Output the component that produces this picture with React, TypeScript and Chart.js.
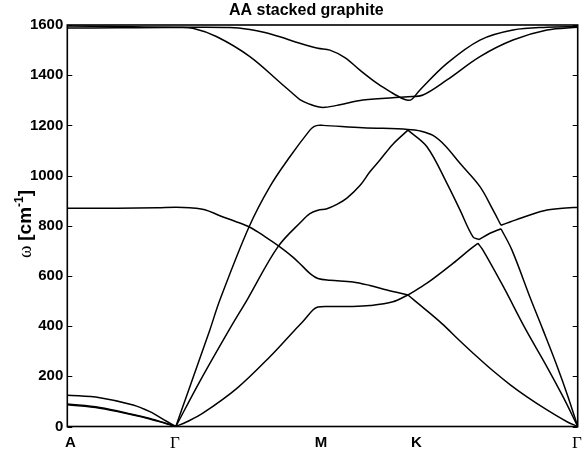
import React, { useEffect, useRef } from 'react';
import { Chart, registerables } from 'chart.js';

Chart.register(...registerables);

// ---------- text ----------
const TITLE = 'AA stacked graphite';
const Y_TITLE_SYMBOL = 'ω';
const Y_TITLE_TEXT = '[cm';
const Y_TITLE_SUP = '-1';
const Y_TITLE_END = ']';

// ---------- axes ----------
const K_MAX = 5.102;
const K_TICK_POS = [0.03, 1.075, 2.535, 3.49, 5.095];
const K_TICK_LABELS = ['A', 'Γ', 'M', 'K', 'Γ'];
const Y_MIN = 0;
const Y_MAX = 1600;
const Y_STEP = 200;

// ---------- bands: [k, omega (cm^-1)] ----------
// A - Γ acoustic
const AC1_AG = [[0, 125], [0.325, 115], [0.658, 86], [0.825, 59], [0.992, 21], [1.085, 0]];
const AC2_AG = [[0, 87], [0.325, 73], [0.658, 46], [0.825, 30], [0.992, 11], [1.085, 0]];
const AC3_AG = [[0, 90], [0.325, 76], [0.658, 48], [0.825, 32], [0.992, 12], [1.085, 0]];

// ZO-like branch A -> Γ -> M -> K
const ZO_AK = [
  [0, 870], [0.5, 870], [0.9, 872], [1.085, 874], [1.225, 872], [1.375, 864], [1.525, 840],
  [1.675, 818], [1.825, 794], [1.975, 757], [2.125, 716], [2.255, 675], [2.355, 637],
  [2.425, 610], [2.505, 590], [2.625, 583], [2.855, 576], [3.025, 562], [3.195, 544], [3.405, 524],
];
// ZA branch Γ -> M -> K
const ZA_GK = [
  [1.085, 0], [1.195, 19], [1.355, 53], [1.695, 152], [2.025, 278], [2.275, 385], [2.355, 418],
  [2.455, 464], [2.505, 476], [2.625, 478], [2.825, 478], [3.025, 482], [3.255, 497], [3.405, 524],
];
// LA branch Γ -> M -> K -> avoided crossing
const LA_GK = [
  [1.085, 0], [1.195, 125], [1.425, 385], [1.525, 504], [1.815, 794], [2.025, 956],
  [2.225, 1075], [2.425, 1181], [2.465, 1195], [2.505, 1200], [2.555, 1200], [2.955, 1191],
  [3.405, 1184], [3.525, 1178], [3.655, 1160], [3.775, 1120], [3.925, 1049], [4.125, 956],
  [4.255, 863], [4.335, 802],
];
const LA_END = [[4.335, 802], [4.425, 815], [4.595, 839], [4.795, 863], [5.055, 873], [5.102, 873]];
// TA branch Γ -> M -> K
const TA_GK = [
  [1.085, 0], [1.325, 180], [1.625, 390], [1.805, 510], [2.105, 716], [2.355, 823],
  [2.425, 848], [2.505, 862], [2.595, 868], [2.695, 885], [2.795, 910], [2.925, 960],
  [3.025, 1015], [3.125, 1062], [3.255, 1125], [3.405, 1181],
];
// K -> Γ pieces
const B1_KG = [[3.405, 1181], [3.595, 1115], [3.795, 969], [3.925, 863], [4.055, 756], [4.115, 745]];
const B2_KG = [[4.115, 745], [4.225, 770], [4.335, 788]];
const B3_KG = [[4.335, 788], [4.445, 703], [4.635, 505], [4.755, 385], [4.885, 252], [5.005, 119], [5.102, 0]];
const A1_KG = [[3.405, 524], [3.595, 571], [3.855, 650], [4.025, 706], [4.105, 730]];
const A2_KG = [[4.105, 730], [4.155, 703], [4.355, 560], [4.585, 385], [4.775, 252], [4.955, 119], [5.102, 0]];
const ZA_KG = [
  [3.405, 524], [3.575, 468], [3.745, 410], [3.915, 345], [4.085, 282], [4.255, 222],
  [4.425, 167], [4.595, 118], [4.795, 66], [4.995, 19], [5.102, 0],
];
// optical high bands, whole path
const H1 = [
  [0, 1596], [0.5, 1594], [1.085, 1591], [1.625, 1590], [1.825, 1582], [1.975, 1570],
  [2.125, 1553], [2.325, 1527], [2.505, 1507], [2.625, 1500], [2.775, 1470], [2.925, 1420],
  [3.105, 1365], [3.245, 1330], [3.355, 1306], [3.405, 1300], [3.445, 1304], [3.525, 1341],
  [3.795, 1447], [4.125, 1540], [4.455, 1580], [4.795, 1591], [5.102, 1593],
];
const H2 = [
  [0, 1588], [0.5, 1589], [1.085, 1590], [1.255, 1587], [1.495, 1553], [1.825, 1474],
  [2.135, 1368], [2.245, 1330], [2.325, 1303], [2.425, 1284], [2.505, 1274], [2.575, 1272],
  [2.725, 1282], [2.955, 1301], [3.405, 1314], [3.555, 1321], [3.795, 1381], [4.125, 1474],
  [4.455, 1540], [4.795, 1580], [5.102, 1591],
];

const PIECES = [
  AC1_AG, AC2_AG, AC3_AG, ZO_AK, ZA_GK, LA_GK, LA_END, TA_GK,
  B1_KG, B2_KG, B3_KG, A1_KG, A2_KG, ZA_KG, H1, H2,
];

const SANS = '"Liberation Sans", Arial, sans-serif';
const SERIF = '"Liberation Serif", "Times New Roman", serif';

const decorPlugin = {
  id: 'decor',
  afterDraw(chart: any) {
    const { ctx, chartArea } = chart;
    const { left, right, top, bottom } = chartArea;
    const yScale = chart.scales.y;
    ctx.save();
    ctx.strokeStyle = '#000';
    ctx.lineWidth = 1.6;
    ctx.strokeRect(left, top, right - left, bottom - top);
    ctx.lineWidth = 1;
    for (let v = Y_MIN; v <= Y_MAX; v += Y_STEP) {
      const y = Math.round(yScale.getPixelForValue(v)) + 0.5;
      ctx.beginPath();
      ctx.moveTo(left, y);
      ctx.lineTo(left + 5, y);
      ctx.moveTo(right, y);
      ctx.lineTo(right - 5, y);
      ctx.stroke();
    }
    // title
    ctx.fillStyle = '#000';
    ctx.textBaseline = 'alphabetic';
    ctx.textAlign = 'left';
    ctx.font = `bold 16px ${SANS}`;
    ctx.fillText(TITLE, 229, 15);
    // y title (rotated, mixed fonts)
    ctx.translate(31, 258);
    ctx.rotate(-Math.PI / 2);
    let x = 0;
    ctx.font = `19px ${SERIF}`;
    ctx.fillText(Y_TITLE_SYMBOL, x, 0);
    x += ctx.measureText(Y_TITLE_SYMBOL + ' ').width;
    ctx.font = `bold 19px ${SANS}`;
    ctx.fillText(Y_TITLE_TEXT, x, 0);
    x += ctx.measureText(Y_TITLE_TEXT).width;
    ctx.font = `bold 12px ${SANS}`;
    ctx.fillText(Y_TITLE_SUP, x, -8);
    x += ctx.measureText(Y_TITLE_SUP).width;
    ctx.font = `bold 19px ${SANS}`;
    ctx.fillText(Y_TITLE_END, x, 0);
    ctx.restore();
  },
};

export default function App() {
  const ref = useRef<HTMLCanvasElement>(null);
  useEffect(() => {
    if (!ref.current) return;
    const chart = new Chart(ref.current, {
      type: 'line',
      data: {
        datasets: PIECES.map((p) => ({
          data: p.map(([k, w]) => ({ x: k, y: w })),
          borderColor: '#000',
          borderWidth: 1.5,
          pointRadius: 0,
          fill: false,
          tension: 0.35,
        })),
      },
      options: {
        animation: false,
        responsive: false,
        devicePixelRatio: 1,
        parsing: false as any,
        layout: { padding: { top: 25, right: 5.3, left: 0, bottom: 0 } },
        plugins: { legend: { display: false }, tooltip: { enabled: false }, title: { display: false } },
        scales: {
          x: {
            type: 'linear',
            min: 0,
            max: K_MAX,
            grid: { display: false, drawTicks: false },
            border: { display: false },
            afterBuildTicks: (s: any) => {
              s.ticks = K_TICK_POS.map((v) => ({ value: v }));
            },
            afterFit: (s: any) => {
              s.height = 450 - 426.5;
              s.paddingLeft = 0;
              s.paddingRight = 0;
            },
            ticks: {
              autoSkip: false,
              maxRotation: 0,
              minRotation: 0,
              padding: 7,
              color: '#000',
              callback: (_v: any, i: number) => K_TICK_LABELS[i],
              font: (c: any) =>
                K_TICK_LABELS[c.index] === 'Γ'
                  ? { family: SERIF, size: 17, weight: 'normal' }
                  : { family: SANS, size: 15, weight: 'bold' },
            },
          },
          y: {
            min: Y_MIN,
            max: Y_MAX,
            grid: { display: false, drawTicks: false },
            border: { display: false },
            afterFit: (s: any) => {
              s.width = 67.3;
              s.paddingTop = 0;
              s.paddingBottom = 0;
            },
            ticks: {
              stepSize: Y_STEP,
              padding: 4,
              color: '#000',
              callback: (v: any) => String(v),
              font: { family: SANS, size: 15, weight: 'bold' },
            },
          },
        },
      },
      plugins: [decorPlugin],
    } as any);
    return () => chart.destroy();
  }, []);
  return (
    <div style={{ position: 'absolute', left: 0, top: 0, width: 583, height: 450, background: '#fff' }}>
      <canvas ref={ref} width={583} height={450} />
    </div>
  );
}
